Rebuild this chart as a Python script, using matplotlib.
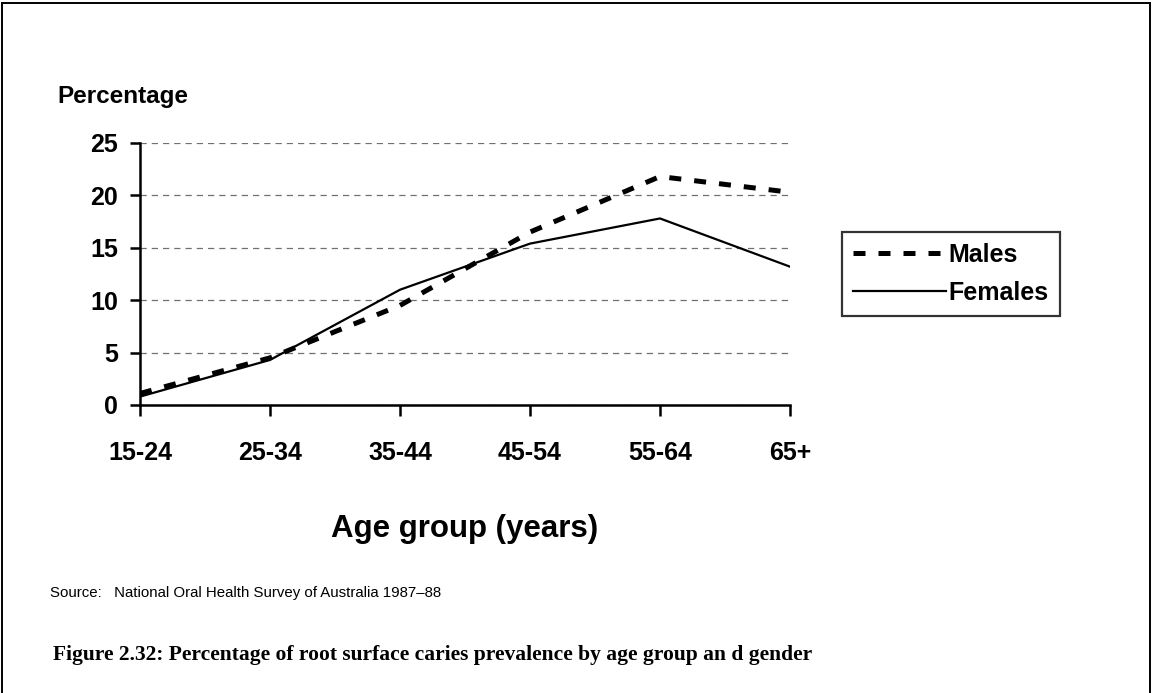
import matplotlib.pyplot as plt
from matplotlib.lines import Line2D

age_groups = ['15-24', '25-34', '35-44', '45-54', '55-64', '65+']
males = [1.1, 4.5, 9.5, 16.5, 21.8, 20.3]
females = [0.8, 4.3, 11.0, 15.4, 17.8, 13.2]

plt.rcParams['font.family'] = ['Liberation Sans', 'DejaVu Sans']

fig = plt.figure(figsize=(11.52, 6.93), dpi=100)
ax = fig.add_axes([140/1152, 1 - 405/693, 650/1152, 262/693])

x = range(len(age_groups))
ax.plot(x, males, color='black', lw=3.6, dashes=(2.4, 2.6), label='Males')
ax.plot(x, females, color='black', lw=1.6, label='Females')

ax.set_xlim(0, len(age_groups) - 1)
ax.set_ylim(0, 25)
ax.set_yticks([0, 5, 10, 15, 20, 25])
ax.set_xticks(list(x))
ax.set_xticklabels(age_groups)
ax.yaxis.grid(True, color='#707070', lw=0.9, dashes=(5, 4))
ax.set_axisbelow(True)

for s in ['top', 'right']:
    ax.spines[s].set_visible(False)
for s in ['left', 'bottom']:
    ax.spines[s].set_linewidth(1.8)
ax.tick_params(axis='both', direction='out', width=1.8, labelsize=18)
ax.tick_params(axis='x', length=8, pad=18)
ax.tick_params(axis='y', length=7, pad=9)
for lab in ax.get_xticklabels() + ax.get_yticklabels():
    lab.set_fontweight('bold')

ax.set_xlabel('Age group (years)', fontsize=22.5, fontweight='bold', labelpad=35)
fig.text(57/1152, 1 - 97/693, 'Percentage', fontsize=17.5, fontweight='bold',
         va='center', ha='left')

leg = ax.legend(loc='center left', bbox_to_anchor=(1.08, 0.5), frameon=True,
                fancybox=False, edgecolor='black', fontsize=18,
                handlelength=3.7, handletextpad=0.1, borderpad=0.45,
                labelspacing=0.55, borderaxespad=0)
leg.get_frame().set_linewidth(1.6)
for t in leg.get_texts():
    t.set_fontweight('bold')

fig.text(50/1152, 1 - 593/693, 'Source:   National Oral Health Survey of Australia 1987\u201388',
         fontsize=10.8, va='center', ha='left')
fig.text(53/1152, 1 - 655/693,
         'Figure 2.32: Percentage of root surface caries prevalence by age group an d gender',
         fontsize=15.5, fontweight='bold', va='center', ha='left',
         family=['Liberation Serif', 'DejaVu Serif'])

# page frame: left, top and right edges
fx0, fx1, fy1 = 2/1152, 1150/1152, 1 - 2.5/693
for xs, ys in [([fx0, fx0], [0, fy1]), ([fx0, fx1], [fy1, fy1]), ([fx1, fx1], [fy1, 0])]:
    fig.add_artist(Line2D(xs, ys, transform=fig.transFigure, color='black', lw=1.4))

fig.savefig('out.png', dpi=100)
